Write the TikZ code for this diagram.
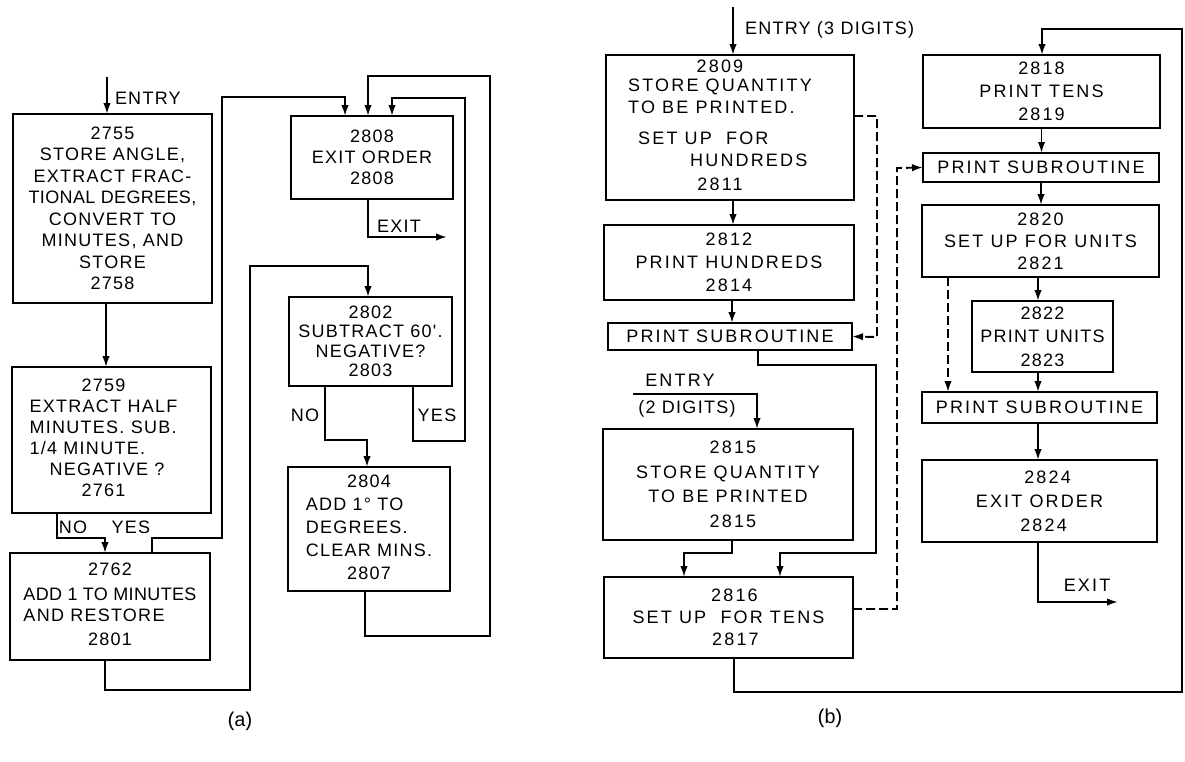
\documentclass[tikz,border=0pt]{standalone}
\usepackage{fontspec}
\setmainfont{Liberation Sans}
\newfontfamily\fa{Liberation Sans}[LetterSpace=7]
\newfontfamily\fb{Liberation Sans}[LetterSpace=12]
\newfontfamily\fc{Liberation Sans}[LetterSpace=2]
\newfontfamily\fcap{Liberation Mono}[LetterSpace=-18]
\usetikzlibrary{arrows.meta,calc}
\begin{document}
\begin{tikzpicture}[x=1pt,y=-1pt, line width=1.9pt,
  arr/.style={-{Latex[length=11pt,width=7.5pt]}},
  dsh/.style={dash pattern=on 9pt off 4pt},
  blk/.style={draw, inner sep=0pt, outer sep=0pt},
  ta/.style={font={\fa\fontsize{18}{#1}\selectfont}}, ta/.default=21pt,
  tb/.style={font={\fb\fontsize{18}{#1}\selectfont}}, tb/.default=21pt,
  lbl/.style={inner sep=0pt, outer sep=0pt}]
\useasboundingbox[fill=white] (0,0) rectangle (1185,761);

% ---------------- (a) ----------------
\node[blk, ta=21.5pt, align=center, minimum width=199pt, minimum height=189pt] (b2755) at (112.5,208.5)
  {2755\\STORE ANGLE,\\EXTRACT FRAC-\\{\fc TIONAL DEGREES,}\\CONVERT TO\hspace*{18pt}\\MINUTES, AND\\STORE\\2758};
\node[blk, ta, minimum width=199pt, minimum height=146pt] (b2759) at (111.5,440)
  {\begin{tabular}{@{}l@{\hspace{16pt}}}\multicolumn{1}{@{}c@{\hspace{16pt}}}{2759}\\EXTRACT HALF\\MINUTES. SUB.\\1/4 MINUTE.\\\hspace*{20pt}NEGATIVE ?\\\multicolumn{1}{@{}c@{\hspace{16pt}}}{2761}\end{tabular}};
\node[blk, ta, minimum width=200pt, minimum height=107pt] (b2762) at (110,606.5)
  {\begin{tabular}{@{}l@{}}\multicolumn{1}{@{}c@{}}{2762}\\[4pt]{\fc ADD\ 1 TO MINUTES}\\AND RESTORE\\[3pt]\multicolumn{1}{@{}c@{}}{2801}\end{tabular}};
\node[blk, ta, align=center, minimum width=162pt, minimum height=83pt] (b2808) at (372,157.5)
  {2808\\EXIT ORDER\\2808};
\node[blk, ta=19.5pt, align=center, minimum width=163pt, minimum height=89pt] (b2802) at (370.5,341.5)
  {2802\\SUBTRACT 60'.\\NEGATIVE?\\2803};
\node[blk, ta=23pt, minimum width=162pt, minimum height=124pt] (b2804) at (369,529)
  {\begin{tabular}{@{}l@{}}\multicolumn{1}{@{}c@{}}{2804}\\ADD 1° TO\\DEGREES.\\CLEAR MINS.\\\multicolumn{1}{@{}c@{}}{2807}\end{tabular}};

\node[lbl, ta, anchor=west] (entA) at (115,98) {ENTRY};
\node[lbl, ta, anchor=west] (exitA) at (377,226) {EXIT};
\node[lbl, ta] (noA) at (73,527) {NO};
\node[lbl, ta] (yesA) at (131,527) {YES};
\node[lbl, ta] (noB) at (305,415) {NO};
\node[lbl, ta] (yesB) at (437,415) {YES};
\node[lbl, font={\fcap\fontsize{20}{24}\selectfont}] (capA) at (240,721) {(a)};

\coordinate (ea) at (107,77);
\coordinate (xa) at (447,237);
\draw[arr] (ea) -- (ea |- b2755.north);
\draw[arr] ([xshift=-6.5pt]b2755.south) -- ([xshift=-5.5pt]b2759.north);
\draw[arr] ([xshift=-54.5pt]b2759.south) -- (57,538) -| ([xshift=-5pt]b2762.north);
\draw[arr] ([xshift=42pt]b2762.north) -- (152,538) -- (222,538) -- (222,97) -| ([xshift=-27pt]b2808.north);
\draw[arr] ([xshift=-5pt]b2762.south) -- (105,690) -- (250,690) -- (250,266) -| ([xshift=-2.5pt]b2802.north);
\draw[arr] ([xshift=-45.5pt]b2802.south) -- (325,440) -| ([xshift=-2pt]b2804.north);
\draw[arr] ([xshift=42.5pt]b2802.south) -- (413,441) -- (465,441) -- (465,98) -| ([xshift=20pt]b2808.north);
\draw[arr] ([xshift=-4pt]b2804.south) -- (365,636) -- (490,636) -- (490,76) -| ([xshift=-4pt]b2808.north);
\draw[arr] ([xshift=-4pt]b2808.south) |- (xa);

% ---------------- (b) ----------------
\node[blk, tb, minimum width=248pt, minimum height=145pt] (b2809) at (730,127.5)
  {\begin{tabular}{@{}l@{\hspace{20pt}}}\multicolumn{1}{@{}c@{\hspace{20pt}}}{2809}\\[-2pt]STORE QUANTITY\\[1pt]TO BE PRINTED.\\[10pt]\hspace*{10pt}SET UP\ \ FOR\\[1pt]\hspace*{62pt}HUNDREDS\\[3pt]\multicolumn{1}{@{}c@{\hspace{20pt}}}{2811}\end{tabular}};
\node[blk, tb=23pt, align=center, minimum width=250pt, minimum height=75pt] (b2812) at (729,262.5)
  {2812\\PRINT HUNDREDS\\2814};
\node[blk, tb, align=center, minimum width=244pt, minimum height=27pt] (ps1) at (730,336.5)
  {PRINT SUBROUTINE};
\node[blk, tb=24.5pt, align=center, minimum width=250pt, minimum height=111pt] (b2815) at (728,484.5)
  {\hspace*{10pt}2815\\STORE QUANTITY\\TO BE PRINTED\\\hspace*{10pt}2815};
\node[blk, tb=22pt, align=center, minimum width=249pt, minimum height=81pt] (b2816) at (728.5,617.5)
  {\hspace*{12pt}2816\\SET UP\ \ FOR TENS\\\hspace*{14pt}2817};
\node[blk, tb=23pt, align=center, minimum width=237pt, minimum height=73pt] (b2818) at (1041.5,91.5)
  {2818\\PRINT TENS\\2819};
\node[blk, tb, align=center, minimum width=236pt, minimum height=29pt] (ps2) at (1041,167.5)
  {PRINT SUBROUTINE};
\node[blk, tb=22pt, align=center, minimum width=237pt, minimum height=72pt] (b2820) at (1040.5,241)
  {2820\\SET UP FOR UNITS\\2821};
\node[blk, ta=23.5pt, align=center, minimum width=141pt, minimum height=71pt] (b2822) at (1042.5,336.5)
  {2822\\PRINT UNITS\\2823};
\node[blk, tb, align=center, minimum width=235pt, minimum height=31pt] (ps3) at (1039.5,407.5)
  {PRINT SUBROUTINE};
\node[blk, tb=24pt, align=center, minimum width=235pt, minimum height=82pt] (b2824) at (1039.5,501)
  {\hspace*{16pt}2824\\EXIT ORDER\\\hspace*{8pt}2824};

\node[lbl, ta, anchor=west] (entB) at (745,30) {ENTRY (3 DIGITS)};
\node[lbl, tb] (ent2) at (680,380) {ENTRY};
\node[lbl, ta] (dig2) at (687,409) {(2 DIGITS)};
\node[lbl, tb] (exitB) at (1087,585) {EXIT};
\node[lbl, font={\fcap\fontsize{20}{24}\selectfont}] (capB) at (830,718) {(b)};

\coordinate (eb) at (733,7);
\coordinate (e2) at (633,394);
\coordinate (xb) at (1118,602);
\draw[arr] (eb) -- (eb |- b2809.north);
\draw[arr] ([xshift=3pt]b2809.south) -- ([xshift=4pt]b2812.north);
\draw[arr] ([xshift=3pt]b2812.south) -- ([xshift=2pt]ps1.north);
\draw[arr, dsh] ([yshift=11.5pt]b2809.east) -- (877,116) -- (877,337) -- (ps1.east);
\draw[arr] ([xshift=28pt]ps1.south) -- (758,365) -- (876,365) -- (876,553) -| ([xshift=51.5pt]b2816.north);
\draw[arr] (e2) -| ([xshift=29pt]b2815.north);
\draw[arr] ([xshift=4pt]b2815.south) -- (732,553) -| ([xshift=-44.5pt]b2816.north);
\draw[arr, dsh] ([yshift=8.5pt]b2816.east) -- (897,609) -- (897,168) -- (ps2.west);
\draw[arr] ([xshift=5.5pt]b2816.south) -- (734,692) -- (1182,692) -- (1182,29) -| ([xshift=0.5pt]b2818.north);
\draw[arr] (b2818.south) -- (b2818.south |- ps2.north);
\draw[arr] (ps2.south) -- (ps2.south |- b2820.north);
\draw[arr] ([xshift=-2.5pt]b2820.south) -- ([xshift=-4.5pt]b2822.north);
\draw[arr, dsh] ([xshift=-92.5pt]b2820.south) -- ([xshift=-91.5pt]ps3.north);
\draw[arr] ([xshift=-4.5pt]b2822.south) -- ([xshift=-1.5pt]ps3.north);
\draw[arr] ([xshift=-1.5pt]ps3.south) -- ([xshift=-1.5pt]b2824.north);
\draw[arr] ([xshift=-1.5pt]b2824.south) |- (xb);
\end{tikzpicture}
\end{document}
